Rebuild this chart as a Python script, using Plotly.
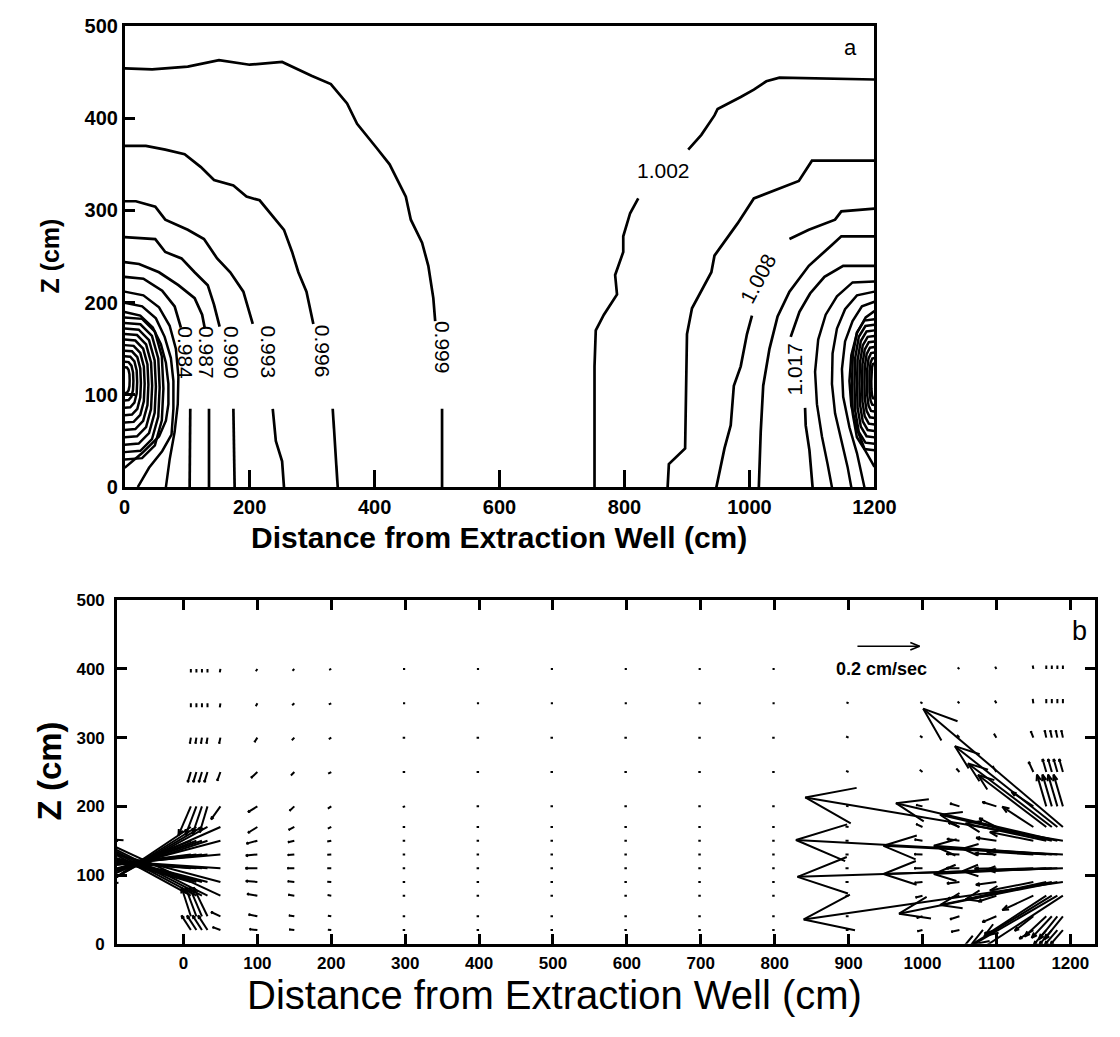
import math
import plotly.graph_objects as go

W, H = 1120, 1037
FONT = "Arial, Liberation Sans, Helvetica, sans-serif"

# ---------------- Panel a : contour lines (X cm, Z cm) ----------------
c0999_up_x = [0, 44, 101, 151, 200, 252, 299, 330, 356, 372, 403, 424, 450, 458, 476, 486, 494, 497]
c0999_up_y = [454, 453, 456, 463, 458, 461, 446, 437, 416, 394, 368, 350, 315, 290, 265, 240, 205, 180]
c0999_lo_x = [508, 508]
c0999_lo_y = [85, 0]
c0996_up_x = [0, 34, 65, 96, 122, 143, 174, 195, 216, 237, 255, 268, 278, 291, 302]
c0996_up_y = [370, 370, 366, 361, 347, 333, 327, 315, 311, 294, 279, 255, 233, 212, 177]
c0996_lo_x = [333, 341]
c0996_lo_y = [85, 0]
c0993_up_x = [0, 18, 49, 65, 101, 127, 148, 169, 190, 205]
c0993_up_y = [310, 310, 304, 290, 279, 269, 248, 233, 212, 177]
c0993_lo_x = [237, 242, 252, 255]
c0993_lo_y = [85, 50, 28, 0]
c0990_up_x = [0, 49, 65, 91, 112, 133, 143, 152]
c0990_up_y = [271, 269, 255, 248, 233, 219, 198, 174]
c0990_lo_x = [174, 176]
c0990_lo_y = [85, 0]
c0987_up_x = [0, 23, 55, 86, 112, 124, 128]
c0987_up_y = [244, 242, 233, 219, 205, 187, 173]
c0987_lo_x = [135, 135]
c0987_lo_y = [85, 0]
c0984_up_x = [0, 30, 60, 80, 90]
c0984_up_y = [228, 226, 213, 196, 173]
c0984_lo_x = [105, 104]
c0984_lo_y = [85, 0]

# unlabelled lines around the extraction well (left)
left_rings_x = [
    [0, 30, 55, 72, 82, 86, 85, 80, 72, 66],
    [0, 28, 50, 64, 74, 78, 78, 75, 60, 39, 21],
    [0, 25, 45, 58, 66, 70, 70, 66, 55, 28, 0],
    [0, 27.9, 48.4, 59.5, 62, 59.5, 48.4, 27.9, 0],
    [0, 25.2, 43.7, 53.8, 56, 53.8, 43.7, 25.2, 0],
    [0, 22.5, 39, 48, 50, 48, 39, 22.5, 0],
    [0, 19.8, 34.3, 42.2, 44, 42.2, 34.3, 19.8, 0],
    [0, 17.1, 29.6, 36.5, 38, 36.5, 29.6, 17.1, 0],
    [0, 14.4, 25, 30.7, 32, 30.7, 25, 14.4, 0],
    [0, 11.7, 20.3, 25, 26, 25, 20.3, 11.7, 0],
    [0, 9, 15.6, 19.2, 20, 19.2, 15.6, 9, 0],
    [0, 6.3, 10.9, 13.4, 14, 13.4, 10.9, 6.3, 0],
    [0, 3.6, 6.2, 7.7, 8, 7.7, 6.2, 3.6, 0],
]
left_rings_y = [
    [212, 208, 195, 175, 150, 120, 90, 60, 30, 0],
    [200, 196, 183, 163, 140, 115, 85, 57, 39, 21, 0],
    [190, 186, 173, 155, 135, 112, 90, 72, 55, 37, 21],
    [184, 182.5, 168.6, 141.7, 107, 72.4, 45.4, 31.5, 30],
    [178, 176.6, 164, 139.5, 108, 76.5, 52, 39.4, 38],
    [172, 170.7, 159.4, 137.4, 109, 80.7, 58.6, 47.3, 46],
    [166, 164.9, 154.8, 135.2, 110, 84.8, 65.2, 55.1, 54],
    [160, 159, 150.2, 133, 111, 89, 71.8, 63, 62],
    [154, 153.2, 145.6, 130.9, 112, 93.1, 78.4, 70.8, 70],
    [148, 147.3, 141, 128.8, 113, 97.3, 85, 78.7, 78],
    [142, 141.4, 136.4, 126.6, 114, 101.4, 91.6, 86.6, 86],
    [136, 135.6, 131.8, 124.5, 115, 105.6, 98.2, 94.4, 94],
    [130, 129.7, 127.2, 122.3, 116, 109.7, 104.8, 102.3, 102],
]

c1002_up_x = [1200, 1048, 1027, 1007, 986, 949, 944, 923, 902]
c1002_up_y = [442, 444, 440, 431, 423, 410, 403, 382, 366]
c1002_lo_x = [822, 809, 798, 798, 785, 788, 767, 754, 752, 752]
c1002_lo_y = [313, 297, 272, 255, 230, 209, 187, 170, 131, 0]
c1005_x = [1200, 1100, 1079, 1007, 981, 944, 939, 908, 900, 897, 897, 871, 869]
c1005_y = [354, 354, 332, 313, 286, 251, 233, 194, 166, 67, 42, 25, 0]
c1008_up_x = [1200, 1147, 1137, 1095, 1064]
c1008_up_y = [302, 299, 290, 279, 269]
c1008_lo_x = [1004, 996, 986, 975, 970, 960, 947]
c1008_lo_y = [186, 166, 131, 110, 67, 42, 0]
c1011_x = [1200, 1147, 1131, 1095, 1064, 1045, 1032, 1022, 1018, 1015]
c1011_y = [272, 272, 262, 240, 212, 185, 150, 110, 60, 0]
c1017_up_x = [1200, 1150, 1120, 1097, 1080, 1066]
c1017_up_y = [240, 240, 228, 210, 190, 163]
c1017_lo_x = [1089, 1090, 1096, 1101]
c1017_lo_y = [86, 67, 40, 0]

# unlabelled lines around the injection well (right)
right_rings_x = [
    [1200, 1165, 1140, 1122, 1110, 1105, 1108, 1116, 1125, 1132],
    [1200, 1172, 1153, 1140, 1133, 1132, 1137, 1148, 1157, 1163],
    [1200, 1180, 1165, 1153, 1148, 1150, 1160, 1172, 1184],
    [1200, 1186, 1172, 1163, 1160, 1163, 1172, 1185, 1200],
    [1200, 1183.8, 1171.9, 1165.4, 1164, 1165.4, 1171.9, 1183.8, 1200],
    [1200, 1185.6, 1175, 1169.3, 1168, 1169.3, 1175, 1185.6, 1200],
    [1200, 1187.4, 1178.2, 1173.1, 1172, 1173.1, 1178.2, 1187.4, 1200],
    [1200, 1189.2, 1181.3, 1177, 1176, 1177, 1181.3, 1189.2, 1200],
    [1200, 1191, 1184.4, 1180.8, 1180, 1180.8, 1184.4, 1191, 1200],
    [1200, 1192.8, 1187.5, 1184.6, 1184, 1184.6, 1187.5, 1192.8, 1200],
    [1200, 1194.6, 1190.6, 1188.5, 1188, 1188.5, 1190.6, 1194.6, 1200],
    [1200, 1196.4, 1193.8, 1192.3, 1192, 1192.3, 1193.8, 1196.4, 1200],
    [1200, 1197.8, 1196.1, 1195.2, 1195, 1195.2, 1196.1, 1197.8, 1200],
]
right_rings_y = [
    [223, 222, 207, 187, 160, 125, 90, 55, 25, 0],
    [212, 208, 193, 172, 145, 112, 80, 48, 22, 0],
    [201, 196, 180, 158, 128, 98, 65, 37, 0],
    [191, 184, 167, 143, 115, 88, 63, 40, 22],
    [182, 180.6, 167.8, 143, 111, 79, 54.2, 41.4, 40],
    [176, 174.7, 163.1, 140.5, 111.5, 82.5, 59.9, 48.3, 47],
    [170, 168.8, 158.4, 138.1, 112, 85.9, 65.6, 55.2, 54],
    [164, 163, 153.7, 135.7, 112.5, 89.3, 71.3, 62, 61],
    [158, 157.1, 149, 133.3, 113, 92.8, 77, 68.9, 68],
    [152, 151.2, 144.3, 130.8, 113.5, 96.2, 82.7, 75.8, 75],
    [146, 145.4, 139.6, 128.4, 114, 99.6, 88.4, 82.6, 82],
    [140, 139.5, 134.9, 126, 114.5, 103, 94.1, 89.5, 89],
    [134, 133.6, 130.2, 123.6, 115, 106.5, 99.8, 96.4, 96],
]

# contour labels: text, X, Z, angle
label_text = ["0.984", "0.987", "0.990", "0.993", "0.996", "0.999", "1.002", "1.008", "1.017"]
label_x = [97, 131, 171, 231, 317, 508, 862, 1014, 1072]
label_y = [146, 146, 146, 146, 147, 152, 343, 226, 128]
label_angle = [90, 90, 90, 90, 90, 90, 0, -62, -90]

# ---------------- Panel b : velocity vectors (cm/sec) ----------------
X_COLS = [10, 17.5, 25, 32.5, 50, 100, 150, 200, 300, 400, 500, 600, 700, 800,
          900, 1000, 1050, 1100, 1150, 1167.5, 1175, 1182.5, 1190]
Y_ROWS = [20, 40, 70, 90, 110, 130, 150, 170, 200, 250, 300, 350, 400]
U = [
    [-0.03, -0.03, -0.03, -0.03, -0.025, -0.025, -0.016, -0.011, -0.008, -0.008, -0.008, -0.008, -0.008, -0.008, -0.009, -0.016, -0.026, -0.038, -0.045, -0.04, -0.04, -0.04, -0.04],
    [-0.03, -0.035, -0.04, -0.045, -0.03, -0.028, -0.017, -0.011, -0.008, -0.008, -0.008, -0.008, -0.008, -0.008, -0.009, -0.018, -0.03, -0.045, -0.06, -0.07, -0.065, -0.06, -0.06],
    [-0.34, -0.35, -0.36, -0.37, -0.4, -0.033, -0.019, -0.012, -0.008, -0.008, -0.008, -0.008, -0.008, -0.008, -0.01, -0.022, -0.036, -0.058, -0.1, -0.2, -0.26, -0.32, -0.4],
    [-0.36, -0.37, -0.38, -0.39, -0.42, -0.037, -0.021, -0.013, -0.008, -0.008, -0.008, -0.008, -0.008, -0.008, -0.01, -0.025, -0.04, -0.066, -0.14, -0.26, -0.36, -0.51, -0.835],
    [-0.37, -0.38, -0.39, -0.4, -0.42, -0.038, -0.022, -0.013, -0.008, -0.008, -0.008, -0.008, -0.008, -0.008, -0.01, -0.026, -0.042, -0.07, -0.15, -0.27, -0.38, -0.56, -0.855],
    [-0.37, -0.38, -0.39, -0.4, -0.42, -0.037, -0.021, -0.013, -0.008, -0.008, -0.008, -0.008, -0.008, -0.008, -0.01, -0.026, -0.042, -0.07, -0.15, -0.27, -0.38, -0.56, -0.86],
    [-0.36, -0.37, -0.38, -0.39, -0.42, -0.035, -0.02, -0.013, -0.008, -0.008, -0.008, -0.008, -0.008, -0.008, -0.01, -0.025, -0.04, -0.065, -0.14, -0.26, -0.36, -0.52, -0.83],
    [-0.36, -0.37, -0.38, -0.39, -0.42, -0.03, -0.018, -0.011, -0.008, -0.008, -0.008, -0.008, -0.008, -0.008, -0.01, -0.02, -0.035, -0.055, -0.1, -0.22, -0.27, -0.33, -0.45],
    [-0.04, -0.035, -0.03, -0.025, -0.03, -0.03, -0.015, -0.011, -0.008, -0.008, -0.008, -0.008, -0.008, -0.008, -0.008, -0.02, -0.03, -0.045, -0.07, -0.03, -0.03, -0.03, -0.03],
    [-0.01, -0.01, -0.01, -0.01, -0.01, -0.02, -0.011, -0.01, -0.008, -0.008, -0.008, -0.008, -0.008, -0.008, -0.008, -0.009, -0.01, -0.012, -0.015, -0.012, -0.012, -0.012, -0.012],
    [-0.003, -0.003, -0.003, -0.003, -0.004, -0.009, -0.008, -0.008, -0.008, -0.008, -0.008, -0.008, -0.008, -0.008, -0.008, -0.008, -0.008, -0.008, -0.008, -0.005, -0.005, -0.005, -0.005],
    [0, 0, 0, 0, -0.002, -0.005, -0.007, -0.008, -0.007, -0.007, -0.007, -0.007, -0.007, -0.007, -0.007, -0.007, -0.006, -0.005, -0.002, 0, 0, 0, 0],
    [0, 0, 0, 0, -0.002, -0.005, -0.006, -0.007, -0.007, -0.007, -0.007, -0.007, -0.007, -0.007, 0, 0, -0.006, -0.004, -0.002, 0, 0, 0, 0],
]
V = [
    [0.05, 0.05, 0.05, 0.05, 0.01, 0.003, 0.002, 0.001, 0, 0, 0, 0, 0, 0, 0, -0.004, -0.006, -0.012, -0.03, -0.05, -0.05, -0.05, -0.05],
    [0.1, 0.1, 0.1, 0.1, 0.015, 0.006, 0.003, 0.002, 0, 0, 0, 0, 0, 0, 0, -0.006, -0.01, -0.02, -0.05, -0.07, -0.075, -0.08, -0.08],
    [0.2, 0.2, 0.2, 0.2, 0.2, 0.006, 0.003, 0.002, 0, 0, 0, 0, 0, 0, 0, -0.006, -0.01, -0.02, -0.05, -0.14, -0.17, -0.2, -0.28],
    [0.11, 0.11, 0.11, 0.11, 0.12, 0.003, 0.002, 0.001, 0, 0, 0, 0, 0, 0, 0, -0.003, -0.005, -0.01, -0.03, -0.06, -0.08, -0.11, -0.13],
    [0.03, 0.03, 0.03, 0.03, 0.03, 0, 0, 0, 0, 0, 0, 0, 0, 0, 0, 0, 0, -0.002, -0.005, -0.01, -0.02, -0.02, -0.03],
    [-0.05, -0.05, -0.05, -0.05, -0.04, -0.004, -0.002, -0.001, 0, 0, 0, 0, 0, 0, 0, 0.001, 0.002, 0.003, 0.01, 0.02, 0.03, 0.03, 0.05],
    [-0.15, -0.15, -0.14, -0.14, -0.12, -0.01, -0.005, -0.003, 0, 0, 0, 0, 0, 0, 0, 0.004, 0.006, 0.01, 0.03, 0.06, 0.09, 0.13, 0.15],
    [-0.26, -0.25, -0.24, -0.23, -0.2, -0.02, -0.01, -0.006, 0, 0, 0, 0, 0, 0, 0.002, 0.01, 0.015, 0.03, 0.07, 0.18, 0.22, 0.28, 0.41],
    [-0.1, -0.1, -0.095, -0.09, -0.045, -0.02, -0.015, -0.008, -0.002, 0, 0, 0, 0, 0, 0.002, 0.005, 0.01, 0.015, 0.05, 0.11, 0.11, 0.11, 0.11],
    [-0.035, -0.035, -0.035, -0.035, -0.03, -0.02, -0.012, -0.006, 0, 0, 0, 0, 0, 0, 0.004, 0.008, 0.012, 0.02, 0.035, 0.045, 0.045, 0.045, 0.045],
    [-0.02, -0.02, -0.02, -0.02, -0.02, -0.015, -0.009, -0.005, 0, 0, 0, 0, 0, 0, 0.004, 0.006, 0.009, 0.014, 0.022, 0.025, 0.025, 0.025, 0.025],
    [-0.014, -0.014, -0.014, -0.014, -0.014, -0.01, -0.007, -0.004, 0, 0, 0, 0, 0, 0, 0.003, 0.004, 0.006, 0.01, 0.015, 0.015, 0.015, 0.015, 0.015],
    [-0.012, -0.012, -0.012, -0.012, -0.012, -0.008, -0.006, -0.003, 0, 0, 0, 0, 0, 0, 0, 0, 0.005, 0.008, 0.012, 0.012, 0.012, 0.012, 0.012],
]
REF_SPEED = 0.2          # cm/sec reference vector
ARROW_SCALE = 420.0      # cm of plot per cm/sec

# ---------------- geometry ----------------
A_X = [121.7, 890.7]; A_Y = [15.3, 486.5]       # pixel box of panel a
B_X = [113.8, 1116.6]; B_Y = [602.0, 953.0]     # pixel box of panel b
A_XR = [0, 1200]; A_YR = [0, 500]
B_XR = [-90, 1233]; B_YR = [0, 500]


def dom_x(p):
    return [p[0] / W, p[1] / W]


def dom_y(p):
    return [1 - p[1] / H, 1 - p[0] / H]


fig = go.Figure()


def add_line(xs, ys, xa="x", ya="y", width=2):
    fig.add_trace(go.Scatter(x=xs, y=ys, mode="lines", xaxis=xa, yaxis=ya,
                             line=dict(color="black", width=width),
                             hoverinfo="skip", showlegend=False))


for xs, ys in [(c0999_up_x, c0999_up_y), (c0999_lo_x, c0999_lo_y),
               (c0996_up_x, c0996_up_y), (c0996_lo_x, c0996_lo_y),
               (c0993_up_x, c0993_up_y), (c0993_lo_x, c0993_lo_y),
               (c0990_up_x, c0990_up_y), (c0990_lo_x, c0990_lo_y),
               (c0987_up_x, c0987_up_y), (c0987_lo_x, c0987_lo_y),
               (c0984_up_x, c0984_up_y), (c0984_lo_x, c0984_lo_y),
               (c1002_up_x, c1002_up_y), (c1002_lo_x, c1002_lo_y),
               (c1005_x, c1005_y),
               (c1008_up_x, c1008_up_y), (c1008_lo_x, c1008_lo_y),
               (c1011_x, c1011_y),
               (c1017_up_x, c1017_up_y), (c1017_lo_x, c1017_lo_y)]:
    add_line(xs, ys, width=2.7)

for xs, ys in zip(left_rings_x, left_rings_y):
    add_line(xs, ys, width=2.5)
for xs, ys in zip(right_rings_x, right_rings_y):
    add_line(xs, ys, width=2.5)

# ---------------- quiver ----------------
KX = (B_X[1] - B_X[0]) / (B_XR[1] - B_XR[0])
KY = (B_Y[1] - B_Y[0]) / (B_YR[1] - B_YR[0])


def arrow(x0, y0, u, v, qx, qy, head_frac=0.2, ang=20):
    dx, dy = u * ARROW_SCALE, v * ARROW_SCALE
    if dx == 0 and dy == 0:
        return
    x1, y1 = x0 + dx, y0 + dy
    qx += [x0, x1, None]
    qy += [y0, y1, None]
    px, py = dx * KX, dy * KY
    L = math.hypot(px, py)
    if L < 5:
        return
    h = head_frac * L
    a0 = math.atan2(py, px) + math.pi
    pts = []
    for s in (1, -1):
        a = a0 + s * math.radians(ang)
        pts.append((x1 + h * math.cos(a) / KX, y1 + h * math.sin(a) / KY))
    qx += [pts[0][0], x1, pts[1][0], None]
    qy += [pts[0][1], y1, pts[1][1], None]


qx, qy = [], []
for j, yr in enumerate(Y_ROWS):
    for i, xc in enumerate(X_COLS):
        arrow(xc, yr, U[j][i], V[j][i], qx, qy)
fig.add_trace(go.Scatter(x=qx, y=qy, mode="lines", xaxis="x2", yaxis="y2",
                         line=dict(color="black", width=2),
                         hoverinfo="skip", showlegend=False))

rx, ry = [], []
arrow(912, 433, REF_SPEED, 0, rx, ry, head_frac=0.16, ang=22)
fig.add_trace(go.Scatter(x=rx, y=ry, mode="lines", xaxis="x2", yaxis="y2",
                         line=dict(color="black", width=1.7),
                         hoverinfo="skip", showlegend=False))

# ---------------- annotations ----------------
ann = []
for t, x, y, a in zip(label_text, label_x, label_y, label_angle):
    ann.append(dict(text=t, x=x, y=y, xref="x", yref="y", showarrow=False,
                    textangle=a, font=dict(family=FONT, size=21, color="black")))


def pann(text, px, py, size, angle=0, bold=False):
    ann.append(dict(text=("<b>%s</b>" % text) if bold else text,
                    x=px / W, y=1 - py / H, xref="paper", yref="paper",
                    showarrow=False, textangle=angle,
                    xanchor="center", yanchor="middle",
                    font=dict(family=FONT, size=size, color="black")))


pann("Distance from Extraction Well (cm)", 506, 538, 30, bold=True)
pann("Z (cm)", 45, 250, 25, angle=-90, bold=True)
pann("Distance from Extraction Well (cm)", 563, 1005, 40)
pann("Z (cm)", 45, 776, 33, angle=-90, bold=True)
pann("a", 866, 37, 22)
pann("b", 1101, 633, 27)
ann.append(dict(text="<b>0.2 cm/sec</b>", x=945, y=400, xref="x2", yref="y2",
                showarrow=False, font=dict(family=FONT, size=18, color="black")))

TICKF_A = dict(family=FONT, size=20, color="black", weight="bold")
TICKF_B = dict(family=FONT, size=17, color="black", weight="bold")

fig.update_layout(
    width=W, height=H, autosize=False,
    margin=dict(l=0, r=0, t=0, b=0),
    paper_bgcolor="white", plot_bgcolor="white",
    showlegend=False,
    annotations=ann,
    xaxis=dict(domain=dom_x(A_X), range=A_XR, anchor="y",
               tickvals=[0, 200, 400, 600, 800, 1000, 1200],
               ticks="inside", ticklen=17, tickwidth=2.5, tickcolor="black",
               showline=True, linewidth=2.5, linecolor="black", mirror=True,
               showgrid=False, zeroline=False, tickfont=TICKF_A,
               ticklabelstandoff=0),
    yaxis=dict(domain=dom_y(A_Y), range=A_YR, anchor="x",
               tickvals=[0, 100, 200, 300, 400, 500],
               ticks="inside", ticklen=11, tickwidth=2.5, tickcolor="black",
               showline=True, linewidth=2.5, linecolor="black", mirror=True,
               showgrid=False, zeroline=False, tickfont=TICKF_A,
               ticklabelstandoff=0),
    xaxis2=dict(domain=dom_x(B_X), range=B_XR, anchor="y2",
                tickvals=list(range(0, 1201, 100)),
                ticks="inside", ticklen=10, tickwidth=3, tickcolor="black",
                showline=True, linewidth=2.5, linecolor="black", mirror="ticks",
                showgrid=False, zeroline=False, tickfont=TICKF_B,
                ticklabelstandoff=2),
    yaxis2=dict(domain=dom_y(B_Y), range=B_YR, anchor="x2",
                tickvals=[0, 100, 200, 300, 400, 500],
                ticks="inside", ticklen=10, tickwidth=3, tickcolor="black",
                showline=True, linewidth=2.5, linecolor="black", mirror="ticks",
                showgrid=False, zeroline=False, tickfont=TICKF_B,
                ticklabelstandoff=6),
)

fig.write_html("out.html")
